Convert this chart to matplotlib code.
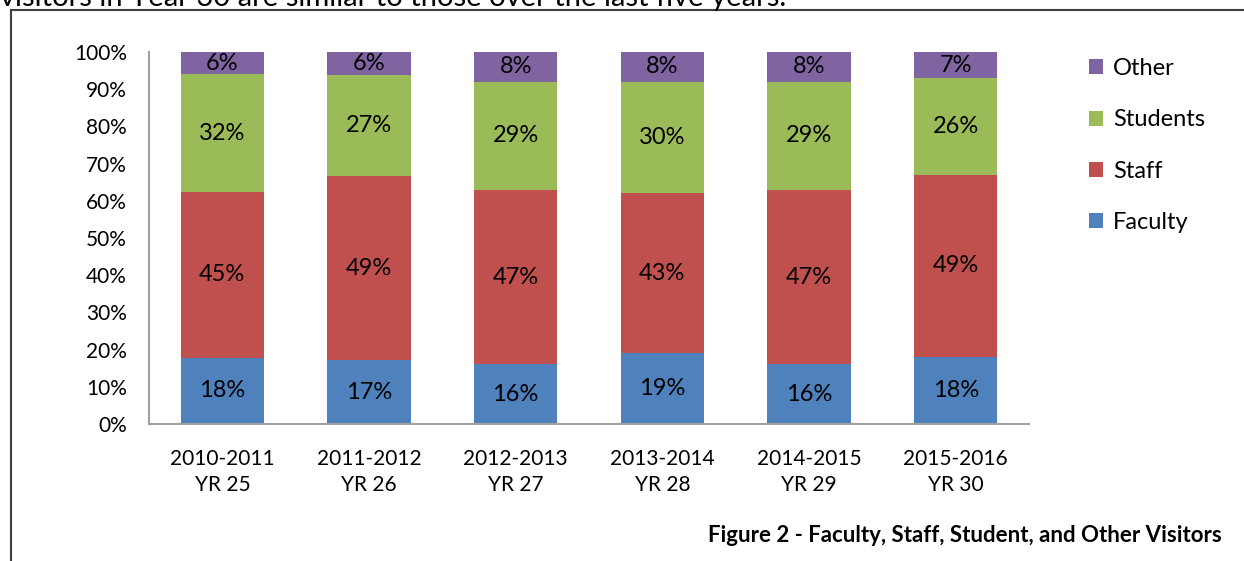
import matplotlib.pyplot as plt
from matplotlib.lines import Line2D
import numpy as np

plt.rcParams['font.family'] = ['Lato', 'DejaVu Sans']

years = ['2010-2011\nYR 25', '2011-2012\nYR 26', '2012-2013\nYR 27',
         '2013-2014\nYR 28', '2014-2015\nYR 29', '2015-2016\nYR 30']
faculty = [18, 17, 16, 19, 16, 18]
staff = [45, 49, 47, 43, 47, 49]
students = [32, 27, 29, 30, 29, 26]
other = [6, 6, 8, 8, 8, 7]

series = [('Faculty', faculty, '#4F81BD'),
          ('Staff', staff, '#C0504D'),
          ('Students', students, '#9BBB59'),
          ('Other', other, '#8064A2')]

totals = np.sum([s[1] for s in series], axis=0)

fig = plt.figure(figsize=(12.44, 5.61), dpi=100)
ax = fig.add_axes([149 / 1244, 1 - 424 / 561, 880 / 1244, 372 / 561])

x = np.arange(len(years))
bottom = np.zeros(len(years))
handles = []
for name, vals, color in series:
    share = np.array(vals) / totals * 100
    bars = ax.bar(x, share, width=0.57, bottom=bottom, color=color, label=name)
    for xi, b, h, v in zip(x, bottom, share, vals):
        ax.text(xi, b + h / 2, f'{v}%', ha='center', va='center', fontsize=17)
    bottom += share
    handles.append(bars)

ax.set_xlim(-0.5, len(years) - 0.5)
ax.set_ylim(0, 100)
ax.set_yticks(np.arange(0, 101, 10))
ax.set_yticklabels([f'{t}%' for t in range(0, 101, 10)], fontsize=15)
ax.set_xticks(x)
ax.set_xticklabels(years, fontsize=15, linespacing=1.4)
ax.tick_params(axis='both', length=0)
ax.tick_params(axis='y', pad=16)
ax.tick_params(axis='x', pad=18)
for side in ['top', 'right']:
    ax.spines[side].set_visible(False)
for side in ['left', 'bottom']:
    ax.spines[side].set_color('#A0A0A0')
    ax.spines[side].set_linewidth(1.5)

ax.legend(handles[::-1], [s[0] for s in series][::-1],
          loc='upper left', bbox_to_anchor=(1068 / 1244, 1 - 37 / 561),
          bbox_transform=fig.transFigure, frameon=False, fontsize=17,
          handlelength=0.6, handleheight=0.6, handletextpad=0.4,
          labelspacing=1.28)

fig.text(1222 / 1244, 1 - 535 / 561,
         'Figure 2 - Faculty, Staff, Student, and Other Visitors',
         ha='right', va='center', fontsize=16, fontweight='bold')

# frame of the chart box
fig.add_artist(Line2D([11 / 1244, 11 / 1244], [0, 1 - 10 / 561],
                      color='#404040', lw=1.5, transform=fig.transFigure))
fig.add_artist(Line2D([11 / 1244, 1], [1 - 10 / 561, 1 - 10 / 561],
                      color='#404040', lw=1.5, transform=fig.transFigure))

# body text above, cut off by the page edge
fig.text(0, 1 - 6 / 561,
         'visitors in Year 30 are similar to those over the last five years.',
         ha='left', va='baseline', fontsize=21)

fig.savefig('out.png', dpi=100)
